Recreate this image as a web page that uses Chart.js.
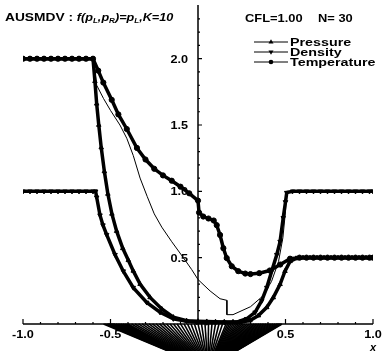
<!DOCTYPE html>
<html>
  <head>
    <title>AUSMDV double rarefaction</title>
    <script src="https://cdn.jsdelivr.net/npm/chart.js"></script>
    <style>
      html, body {
        margin: 0;
        padding: 0;
        background: #fff;
      }
      canvas {
        display: block;
      }
    </style>
  </head>
  <body>
    <canvas id="chart" width="382" height="356"></canvas>

    <script>
      // axis ticks
      const xTicks = [-1.0, -0.5, 0.5, 1.0];
      const xMinorTicks = [-0.9, -0.8, -0.7, -0.6, -0.4, -0.3, -0.2, -0.1, 0.1, 0.2, 0.3, 0.4, 0.6, 0.7, 0.8, 0.9];
      const yTicks = [0.5, 1.0, 1.5, 2.0];
      const yMinorTicks = [0.1, 0.2, 0.3, 0.4, 0.6, 0.7, 0.8, 0.9, 1.1, 1.2, 1.3, 1.4, 1.6, 1.7, 1.8, 1.9, 2.1, 2.2, 2.3];

      // pressure (triangles up)
      const pressureX = [-1.00, -0.96, -0.92, -0.88, -0.84, -0.80, -0.76, -0.72, -0.68, -0.64, -0.60,
        -0.589, -0.579, -0.567, -0.553, -0.535, -0.515, -0.492, -0.465, -0.430, -0.398, -0.370, -0.331, -0.274, -0.207, -0.141, -0.065, 0.000,
        0.05, 0.10, 0.15, 0.20, 0.240, 0.297, 0.345, 0.393, 0.430, 0.469, 0.497, 0.526, 0.560,
        0.60, 0.64, 0.68, 0.72, 0.76, 0.80, 0.84, 0.88, 0.92, 0.96, 1.00];
      const pressureY = [2.00, 2.00, 2.00, 2.00, 2.00, 2.00, 2.00, 2.00, 2.00, 2.00, 2.00,
        1.83, 1.66, 1.50, 1.33, 1.15, 0.98, 0.83, 0.70, 0.57, 0.48, 0.40, 0.30, 0.20, 0.113, 0.051, 0.024, 0.020,
        0.018, 0.016, 0.015, 0.015, 0.013, 0.026, 0.063, 0.125, 0.199, 0.299, 0.398, 0.472, 0.494,
        0.50, 0.50, 0.50, 0.50, 0.50, 0.50, 0.50, 0.50, 0.50, 0.50, 0.50];

      // density (triangles down)
      const densityX = [-1.00, -0.96, -0.92, -0.88, -0.84, -0.80, -0.76, -0.72, -0.68, -0.64, -0.60,
        -0.585, -0.579, -0.560, -0.543, -0.522, -0.474, -0.427, -0.370, -0.293, -0.217, -0.141, -0.065, -0.007,
        0.05, 0.10, 0.15,
        0.221, 0.278, 0.326, 0.364, 0.393, 0.421, 0.450, 0.469, 0.487, 0.500, 0.507,
        0.54, 0.58, 0.62, 0.66, 0.70, 0.74, 0.78, 0.82, 0.86, 0.90, 0.94, 0.98, 1.00];
      const densityY = [1.00, 1.00, 1.00, 1.00, 1.00, 1.00, 1.00, 1.00, 1.00, 1.00, 1.00,
        1.00, 0.955, 0.82, 0.745, 0.673, 0.522, 0.398, 0.274, 0.162, 0.088, 0.039, 0.021, 0.013,
        0.010, 0.010, 0.012,
        0.013, 0.039, 0.088, 0.175, 0.274, 0.398, 0.522, 0.621, 0.80, 0.92, 0.99,
        1.00, 1.00, 1.00, 1.00, 1.00, 1.00, 1.00, 1.00, 1.00, 1.00, 1.00, 1.00, 1.00];

      // temperature (circles)
      const temperatureX = [-1.00, -0.96, -0.92, -0.88, -0.84, -0.80, -0.76, -0.72, -0.68, -0.64, -0.60,
        -0.57, -0.541, -0.493, -0.455, -0.407, -0.349, -0.30, -0.25, -0.20, -0.15, -0.10, -0.05, 0.000,
        0.006, 0.03, 0.06, 0.09, 0.107, 0.126, 0.145, 0.164, 0.193, 0.230, 0.270, 0.300, 0.350, 0.410, 0.470, 0.526, 0.580,
        0.62, 0.66, 0.70, 0.74, 0.78, 0.82, 0.86, 0.90, 0.94, 0.98, 1.00];
      const temperatureY = [2.00, 2.00, 2.00, 2.00, 2.00, 2.00, 2.00, 2.00, 2.00, 2.00, 2.00,
        1.91, 1.82, 1.69, 1.58, 1.47, 1.327, 1.24, 1.17, 1.12, 1.08, 1.035, 0.985, 0.93,
        0.84, 0.81, 0.795, 0.78, 0.745, 0.671, 0.571, 0.497, 0.435, 0.398, 0.380, 0.376, 0.383, 0.403, 0.448, 0.492, 0.500,
        0.50, 0.50, 0.50, 0.50, 0.50, 0.50, 0.50, 0.50, 0.50, 0.50, 0.50];

      // thin reference line
      const exactX = [-1.00, -0.598, -0.579, -0.54, -0.50, -0.446, -0.407, -0.37, -0.331, -0.29, -0.25, -0.207, -0.15, -0.084, -0.036, 0.000,
        0.069, 0.126, 0.165, 0.165, 0.20, 0.30, 0.37, 0.42, 0.46, 0.485, 0.50, 0.505, 1.00];
      const exactY = [2.00, 2.00, 1.80, 1.70, 1.61, 1.50, 1.40, 1.27, 1.10, 0.96, 0.83, 0.73, 0.62, 0.50, 0.41, 0.335,
        0.249, 0.19, 0.178, 0.07, 0.07, 0.13, 0.21, 0.32, 0.47, 0.65, 0.85, 1.00, 1.00];

      // wave fan below the axis: foot points on y=0, all meeting at one apex
      const fanX = [-0.54, -0.53, -0.52, -0.515, -0.51, -0.505, -0.50, -0.495, -0.49, -0.485, -0.48, -0.47, -0.46, -0.45, -0.44, -0.43, -0.42, -0.41, -0.40,
        -0.38, -0.36, -0.34, -0.32, -0.30, -0.28, -0.26, -0.24, -0.22, -0.20, -0.18, -0.16, -0.14, -0.12,
        -0.10, -0.08, -0.06, -0.04, -0.02, 0.00, 0.02, 0.04, 0.06, 0.08, 0.10, 0.12, 0.14,
        0.16, 0.17, 0.18, 0.19, 0.20, 0.21, 0.22, 0.23, 0.24, 0.25, 0.26, 0.27, 0.28, 0.29, 0.30,
        0.31, 0.32, 0.33, 0.34, 0.35, 0.36, 0.37, 0.38, 0.39, 0.40, 0.41, 0.42, 0.43, 0.44, 0.45, 0.455, 0.46, 0.465, 0.47, 0.475, 0.48];
      const fanApexX = 0.057;
      const fanApexY = -0.33;

      const legendNames = ["Pressure", "Density", "Temperature"];

      const pts = (xs, ys) => xs.map((x, i) => ({ x: x, y: ys[i] }));

      const datasets = [
        { label: "Pressure", data: pts(pressureX, pressureY), borderWidth: 3.5, pointStyle: "triangle", pointRotation: 0 },
        { label: "Density", data: pts(densityX, densityY), borderWidth: 3.5, pointStyle: "triangle", pointRotation: 180 },
        { label: "Temperature", data: pts(temperatureX, temperatureY), borderWidth: 3.5, pointStyle: "circle", pointRotation: 0 },
        { label: "exact", data: pts(exactX, exactY), borderWidth: 1, pointRadius: 0 }
      ].map(d => Object.assign({
        showLine: true,
        borderColor: "#000",
        backgroundColor: "#000",
        pointBackgroundColor: "#000",
        pointBorderColor: "#000",
        pointRadius: d.pointRadius === 0 ? 0 : 2.6,
        pointBorderWidth: 1
      }, d));

      fanX.forEach(fx => {
        datasets.push({
          label: "fan",
          data: [{ x: fx, y: 0 }, { x: fanApexX, y: fanApexY }],
          showLine: true,
          borderColor: "#000",
          borderWidth: 1.6,
          pointRadius: 0
        });
      });

      // stretched text, the scan's lettering is wide and short
      function wideText(ctx, s, x, y, font, align, sx) {
        ctx.save();
        ctx.font = font;
        ctx.textAlign = align;
        ctx.translate(x, y);
        ctx.scale(sx, 1);
        ctx.fillText(s, 0, 0);
        ctx.restore();
        ctx.font = font;
        return ctx.measureText(s).width * sx;
      }

      function marker(ctx, style, x, y, r) {
        ctx.beginPath();
        if (style === "circle") {
          ctx.arc(x, y, r, 0, Math.PI * 2);
        } else if (style === "up") {
          ctx.moveTo(x, y - r * 1.2); ctx.lineTo(x + r * 1.1, y + r * 0.7); ctx.lineTo(x - r * 1.1, y + r * 0.7);
        } else {
          ctx.moveTo(x, y + r * 1.2); ctx.lineTo(x + r * 1.1, y - r * 0.7); ctx.lineTo(x - r * 1.1, y - r * 0.7);
        }
        ctx.closePath();
        ctx.fill();
      }

      const frame = {
        id: "frame",
        afterDatasetsDraw(chart) {
          const ctx = chart.ctx;
          const xs = chart.scales.x, ys = chart.scales.y;
          const x0 = xs.getPixelForValue(0), y0 = ys.getPixelForValue(0);
          const bold = "bold 11px 'Liberation Sans', Arial, sans-serif";
          ctx.save();
          ctx.strokeStyle = "#000";
          ctx.fillStyle = "#000";

          // axes
          ctx.lineWidth = 1.5;
          ctx.beginPath();
          ctx.moveTo(xs.getPixelForValue(-1), y0);
          ctx.lineTo(xs.getPixelForValue(1), y0);
          ctx.moveTo(x0, y0);
          ctx.lineTo(x0, ys.getPixelForValue(ys.max));
          ctx.stroke();

          ctx.lineWidth = 1.2;
          ctx.beginPath();
          xTicks.forEach(v => { const p = xs.getPixelForValue(v); ctx.moveTo(p, y0); ctx.lineTo(p, y0 - 5); });
          xMinorTicks.forEach(v => { const p = xs.getPixelForValue(v); ctx.moveTo(p, y0); ctx.lineTo(p, y0 - 2); });
          yTicks.forEach(v => { const p = ys.getPixelForValue(v); ctx.moveTo(x0, p); ctx.lineTo(x0 + 4, p); });
          yMinorTicks.forEach(v => { const p = ys.getPixelForValue(v); ctx.moveTo(x0, p); ctx.lineTo(x0 + 2, p); });
          ctx.stroke();

          // tick labels
          ctx.textBaseline = "middle";
          xTicks.forEach(v => wideText(ctx, v.toFixed(1), xs.getPixelForValue(v), y0 + 11, bold, "center", 1.15));
          yTicks.forEach(v => wideText(ctx, v.toFixed(1), x0 - 10, ys.getPixelForValue(v) + 1, bold, "right", 1.15));
          wideText(ctx, "x", xs.getPixelForValue(1), y0 + 24, "bold italic 11px 'Liberation Sans', Arial, sans-serif", "center", 1);

          // title line
          ctx.textBaseline = "alphabetic";
          const it = "bold italic 11px 'Liberation Sans', Arial, sans-serif";
          const sub = "bold italic 7px 'Liberation Sans', Arial, sans-serif";
          let tx = 5;
          tx += wideText(ctx, "AUSMDV : ", 5, 21, bold, "left", 1.25);
          const runs = [
            ["f(", it, 0], ["p", it, 0], ["L", sub, 2], [",", it, 0], ["p", it, 0], ["R", sub, 2],
            [")=", it, 0], ["p", it, 0], ["L", sub, 2], [",K=10", it, 0]
          ];
          runs.forEach(([s, f, dy]) => { tx += wideText(ctx, s, tx, 21 + dy, f, "left", 1.15); });
          wideText(ctx, "CFL=1.00", 245, 22, bold, "left", 1.17);
          wideText(ctx, "N= 30", 318, 22, bold, "left", 1.17);

          // legend
          const styles = ["up", "down", "circle"];
          legendNames.forEach((name, i) => {
            const ly = 42 + i * 10;
            ctx.lineWidth = 1;
            ctx.beginPath();
            ctx.moveTo(254, ly);
            ctx.lineTo(288, ly);
            ctx.stroke();
            marker(ctx, styles[i], 271, ly, 2.3);
            ctx.textBaseline = "middle";
            wideText(ctx, name, 290, ly + 1, bold, "left", 1.3);
          });
          ctx.restore();
        }
      };

      new Chart(document.getElementById("chart"), {
        type: "scatter",
        data: { datasets: datasets },
        options: {
          responsive: false,
          devicePixelRatio: 1,
          animation: false,
          layout: { padding: { left: 23, right: 9, top: 5, bottom: 0 } },
          elements: { line: { tension: 0 } },
          scales: {
            x: { type: "linear", min: -1, max: 1, display: false },
            y: { type: "linear", min: -0.204, max: 2.405, display: false }
          },
          plugins: {
            legend: { display: false },
            tooltip: { enabled: false }
          }
        },
        plugins: [frame]
      });
    </script>
  </body>
</html>
